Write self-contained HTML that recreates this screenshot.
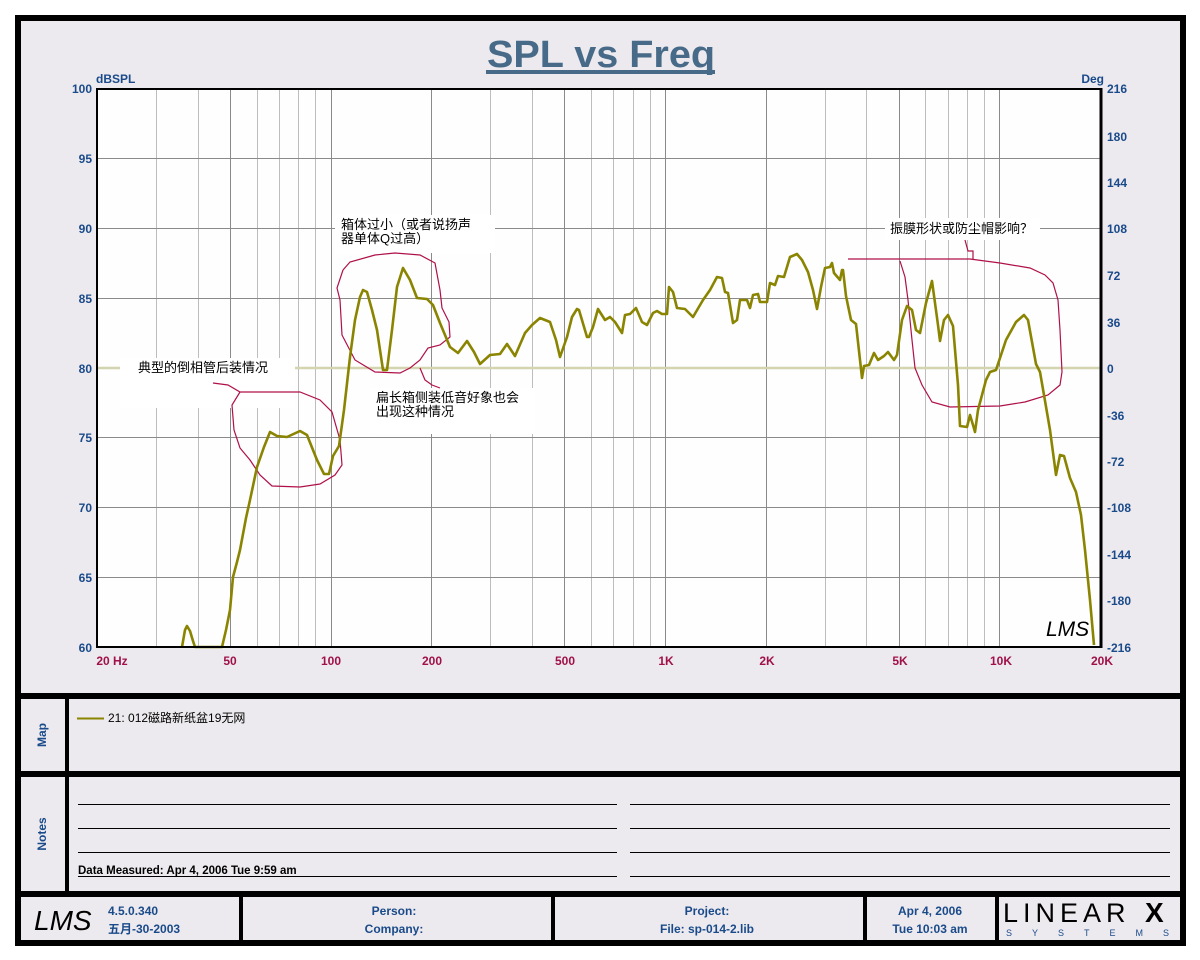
<!DOCTYPE html>
<html><head><meta charset="utf-8"><style>
html,body{margin:0;padding:0;background:#fff;}
svg{display:block;}
text{font-family:"Liberation Sans","Noto Sans CJK SC",sans-serif;}
</style></head><body>
<svg width="1200" height="960" viewBox="0 0 1200 960" xmlns="http://www.w3.org/2000/svg">
<rect x="0" y="0" width="1200" height="960" fill="#fff"/>
<rect x="18" y="18" width="1165" height="925" fill="#ECEAEE" stroke="#000" stroke-width="6"/>
<!-- title -->
<text x="487" y="67" textLength="228" lengthAdjust="spacingAndGlyphs" font-size="38" font-weight="bold" fill="#476A88">SPL vs Freq</text>
<rect x="486" y="70" width="229" height="4" fill="#476A88"/>
<text x="96" y="83" font-size="12" font-weight="bold" fill="#1A4A8A">dBSPL</text>
<text x="1104" y="83" font-size="12" font-weight="bold" fill="#1A4A8A" text-anchor="end">Deg</text>
<!-- plot area -->
<rect x="97" y="89" width="1004" height="558" fill="#FDFEFD"/>
<g id="grid" stroke-width="1"></g>
<g stroke="#8a8a8a" stroke-width="1">
<line x1="97" y1="158.5" x2="1100" y2="158.5"/>
<line x1="97" y1="228.5" x2="1100" y2="228.5"/>
<line x1="97" y1="298.5" x2="1100" y2="298.5"/>
<line x1="97" y1="437.5" x2="1100" y2="437.5"/>
<line x1="97" y1="507.5" x2="1100" y2="507.5"/>
<line x1="97" y1="577.5" x2="1100" y2="577.5"/>
</g>
<line x1="97" y1="368" x2="1100" y2="368" stroke="#D4D4B0" stroke-width="2.5"/>
<!-- annotation label backgrounds -->
<rect x="120" y="358" width="175" height="50" fill="#fff"/>
<rect x="335" y="215" width="160" height="38" fill="#fff"/>
<rect x="370" y="388" width="165" height="46" fill="#fff"/>
<rect x="885" y="218" width="155" height="22" fill="#fff"/>
<g font-size="13" fill="#000">
<text x="138" y="372">典型的倒相管后装情况</text>
<text x="341" y="229">箱体过小（或者说扬声</text>
<text x="341" y="243">器单体Q过高）</text>
<text x="376" y="402">扁长箱侧装低音好象也会</text>
<text x="376" y="416">出现这种情况</text>
<text x="890" y="233">振膜形状或防尘帽影响？</text>
</g>
<!-- annotation shapes -->
<g fill="none" stroke="#B0104A" stroke-width="1.2">
<path d="M213,383 L228,385 L240,392 L250,392 L260,392 L300,392 L320,400 L332,412 L340,440 L342,465 L335,475 L320,484 L300,487 L272,486 L260,475 L250,460 L240,448 L234,430 L232,405 L240,392"/>
<path d="M343,270 L350,262 L375,255 L395,253 L420,255 L435,263 L440,290 L442,308 L449,322 L450,337 L440,345 L428,348 L420,360 L410,368 L400,373 L375,372 L355,360 L342,335 L340,300 L337,288 L343,270"/>
<path d="M420,368 L425,380 L432,385 L440,388"/>
<path d="M848,259 L970,259 L1000,263 L1030,268 L1045,275 L1053,283 L1058,300 L1060,330 L1062,372 L1060,385 L1048,395 L1025,402 L1000,406 L950,407 L932,402 L922,385 L915,368 L912,340 L908,300 L905,277 L900,261"/>
<path d="M965,240 L968,251 L973,251 L973,259"/>
</g>
<!-- curve -->
<polyline fill="none" stroke="#8A8400" stroke-width="2.6" stroke-linejoin="round" points="
182,647 185,630 187,626 190,631 193,641 195,647
222,647 226,630 230,610 233,577 237,562 240,550 246,518 250,500 257,467 264,447 270,432 277,436 287,437 300,431 307,435 317,460 324,474 329,474 333,456 339,446 344,410 350,357 355,320 360,297 363,290 367,292 372,310 377,330 383,370 387,370 392,330 397,287 403,268 410,280 417,298 427,299 433,305 440,323 450,347 458,353 467,341 474,352 480,364 490,355 500,354 507,344 515,356 525,333 532,325 540,318 550,322 556,340 560,357 567,337 572,317 577,309 579,310 587,337 589,337 593,327 598,309 605,320 610,317 615,322 622,333 625,315 630,314 636,308 642,322 647,325 653,313 657,311 662,314 667,314 669,287 673,292 677,308 685,309 693,317 703,300 710,290 717,277 722,278 725,292 728,293 733,323 737,320 740,300 747,300 750,308 753,295 758,294 760,302 767,302 770,283 775,285 778,276 784,277 790,257 797,254 802,260 808,272 813,290 817,309 821,287 825,268 830,267 832,263 834,273 840,280 842,270 843,270 846,296 851,320 856,324 860,360 862,378 864,366 869,365 874,353 878,360 884,356 888,352 894,360 897,355 902,320 907,306 912,310 916,330 920,333 926,303 932,281 938,325 940,341 944,320 948,315 953,326 958,385 960,426 967,427 970,415 973,425 975,432 978,410 986,380 990,372 996,370 1006,340 1016,322 1024,315 1028,320 1036,364 1040,372 1044,395 1050,430 1056,475 1060,455 1064,456 1070,478 1076,492 1081,515 1085,550 1090,600 1094,645"/>
<!-- LMS logo in plot -->
<text x="1046" y="636" font-family="Liberation Serif,serif" font-style="italic" font-size="21" fill="#000">LMS</text>
<!-- plot border -->
<rect x="97" y="89" width="1004" height="558" fill="none" stroke="#000" stroke-width="2"/>
<line x1="1101" y1="88" x2="1101" y2="648" stroke="#000" stroke-width="3"/>
<!-- left ticks -->
<g font-size="12" font-weight="bold" fill="#1A4A8A" text-anchor="end">
<text x="92" y="93">100</text><text x="92" y="163">95</text><text x="92" y="233">90</text>
<text x="92" y="303">85</text><text x="92" y="373">80</text><text x="92" y="442">75</text>
<text x="92" y="512">70</text><text x="92" y="582">65</text><text x="92" y="652">60</text>
</g>
<g font-size="12" font-weight="bold" fill="#1A4A8A" text-anchor="start">
<text x="1107" y="93">216</text><text x="1107" y="141">180</text><text x="1107" y="187">144</text>
<text x="1107" y="233">108</text><text x="1107" y="280">72</text><text x="1107" y="327">36</text>
<text x="1107" y="373">0</text><text x="1107" y="420">-36</text><text x="1107" y="466">-72</text>
<text x="1107" y="512">-108</text><text x="1107" y="559">-144</text><text x="1107" y="605">-180</text>
<text x="1107" y="652">-216</text>
</g>
<g font-size="12" font-weight="bold" fill="#A0104A" text-anchor="middle">
<text x="112" y="665">20  Hz</text><text x="230" y="665">50</text><text x="331" y="665">100</text>
<text x="432" y="665">200</text><text x="565" y="665">500</text><text x="666" y="665">1K</text>
<text x="767" y="665">2K</text><text x="900" y="665">5K</text><text x="1001" y="665">10K</text>
<text x="1102" y="665">20K</text>
</g>
<!-- separators -->
<rect x="15" y="693" width="1170" height="6" fill="#000"/>
<rect x="15" y="771" width="1170" height="6" fill="#000"/>
<rect x="15" y="891" width="1170" height="6" fill="#000"/>
<rect x="65" y="696" width="4" height="198" fill="#000"/>
<text transform="translate(46 735) rotate(-90)" text-anchor="middle" font-size="12" font-weight="bold" fill="#1A4A8A">Map</text>
<text transform="translate(46 834) rotate(-90)" text-anchor="middle" font-size="12" font-weight="bold" fill="#1A4A8A">Notes</text>
<line x1="77" y1="718.5" x2="104" y2="718.5" stroke="#8A8400" stroke-width="2"/>
<text x="108" y="722" font-size="12" fill="#000">21: 012磁路新纸盆19无网</text>
<g stroke="#000" stroke-width="1">
<line x1="78" y1="804.5" x2="617" y2="804.5"/><line x1="630" y1="804.5" x2="1170" y2="804.5"/>
<line x1="78" y1="828.5" x2="617" y2="828.5"/><line x1="630" y1="828.5" x2="1170" y2="828.5"/>
<line x1="78" y1="852.5" x2="617" y2="852.5"/><line x1="630" y1="852.5" x2="1170" y2="852.5"/>
<line x1="78" y1="876.5" x2="617" y2="876.5"/><line x1="630" y1="876.5" x2="1170" y2="876.5"/>
</g>
<text x="78" y="874" font-size="11.5" font-weight="bold" fill="#000">Data Measured: Apr  4, 2006  Tue  9:59 am</text>
<!-- footer -->
<rect x="239" y="894" width="4" height="47" fill="#000"/>
<rect x="551" y="894" width="4" height="47" fill="#000"/>
<rect x="863" y="894" width="4" height="47" fill="#000"/>
<rect x="995" y="894" width="4" height="47" fill="#000"/>
<text x="34" y="930" font-family="Liberation Serif,serif" font-style="italic" font-size="28" fill="#000">LMS</text>
<g font-size="12" font-weight="bold" fill="#1A4A8A">
<text x="108" y="915">4.5.0.340</text>
<text x="108" y="933">五月-30-2003</text>
<text x="394" y="915" text-anchor="middle">Person:</text>
<text x="394" y="933" text-anchor="middle">Company:</text>
<text x="707" y="915" text-anchor="middle">Project:</text>
<text x="707" y="933" text-anchor="middle">File: sp-014-2.lib</text>
<text x="930" y="915" text-anchor="middle">Apr  4, 2006</text>
<text x="930" y="933" text-anchor="middle">Tue 10:03 am</text>
</g>
<text x="1003" y="922" font-family="Liberation Serif,serif" font-size="27" fill="#000" letter-spacing="5">LINEAR</text>
<text x="1145" y="922" font-family="Liberation Sans,sans-serif" font-weight="bold" font-size="28" fill="#000">X</text>
<text x="1006" y="936" font-size="9" fill="#1A4A8A" letter-spacing="20">SYSTEMS</text>
</svg>
<script>
(function(){
var g=document.getElementById('grid');var ns='http://www.w3.org/2000/svg';
function X(f){return 97+334.33*Math.log10(f/20);}
var fs=[];[10,100,1000,10000].forEach(function(d){for(var k=1;k<10;k++){var f=d*k;if(f>20&&f<20000)fs.push(f);}});
fs.forEach(function(f){var x=Math.round(X(f))+0.5;var l=document.createElementNS(ns,'line');
l.setAttribute('x1',x);l.setAttribute('x2',x);l.setAttribute('y1',89);l.setAttribute('y2',647);
var dec=(f==100||f==1000||f==10000||f==50||f==500||f==5000||f==200||f==2000);
l.setAttribute('stroke',dec?'#8a8a8a':'#bdbdbd');g.appendChild(l);});
})();
</script>
</body></html>
